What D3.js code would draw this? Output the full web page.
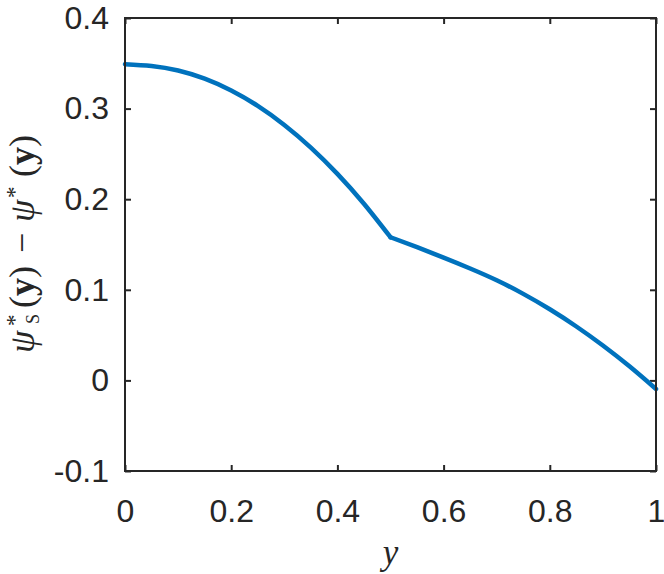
<!DOCTYPE html>
<html>
<head>
<meta charset="utf-8">
<script src="https://cdn.jsdelivr.net/npm/d3@7"></script>
<style>
  body { margin: 0; background: #fff; }
  svg { display: block; }
</style>
</head>
<body>
<svg id="chart" width="664" height="574"></svg>
<script>
// data
var xs = [0, 0.05, 0.1, 0.15, 0.2, 0.25, 0.3, 0.35, 0.4, 0.45, 0.5,
          0.55, 0.6, 0.65, 0.7, 0.75, 0.8, 0.85, 0.9, 0.95, 1];
var diff = [0.349, 0.347, 0.342, 0.333, 0.320, 0.303, 0.282, 0.257, 0.228, 0.195, 0.158,
            0.147, 0.1355, 0.1235, 0.1105, 0.0955, 0.0785, 0.0595, 0.0385, 0.0155, -0.0095];
var xTicks = [0, 0.2, 0.4, 0.6, 0.8, 1];
var yTicks = [-0.1, 0, 0.1, 0.2, 0.3, 0.4];

var mLeft = 125, mRight = 656, mTop = 18, mBottom = 471;
var ink = "#262626";

var svg = d3.select("#chart");

var x = d3.scaleLinear().domain([0, 1]).range([mLeft, mRight]);
var y = d3.scaleLinear().domain([-0.1, 0.4]).range([mBottom, mTop]);

var fmt = function(d){ return String(+d.toFixed(1)); };

// axes (ticks point inward, mirrored on top / right)
var gx = svg.append("g")
    .attr("transform", "translate(0," + mBottom + ")")
    .call(d3.axisBottom(x).tickValues(xTicks).tickSizeInner(-6).tickSizeOuter(0).tickPadding(28).tickFormat(fmt));
var gy = svg.append("g")
    .attr("transform", "translate(" + mLeft + ",0)")
    .call(d3.axisLeft(y).tickValues(yTicks).tickSizeInner(-6).tickSizeOuter(0).tickPadding(16).tickFormat(fmt));
var gx2 = svg.append("g")
    .attr("transform", "translate(0," + mTop + ")")
    .call(d3.axisTop(x).tickValues(xTicks).tickSizeInner(-6).tickSizeOuter(0).tickFormat(""));
var gy2 = svg.append("g")
    .attr("transform", "translate(" + mRight + ",0)")
    .call(d3.axisRight(y).tickValues(yTicks).tickSizeInner(-6).tickSizeOuter(0).tickFormat(""));

[gx, gy, gx2, gy2].forEach(function(g){
  g.select(".domain").remove();
  g.selectAll("line").attr("stroke", ink).attr("stroke-width", 2);
  g.selectAll("text")
    .attr("fill", ink)
    .style("font-family", "'Liberation Sans', Arial, sans-serif")
    .style("font-size", "32px");
});

// the curve, split at the kink so it stays sharp
var kink = xs.indexOf(0.5);
var seg1 = diff.slice(0, kink + 1);
var seg2 = diff.slice(kink);
var line1 = d3.line()
    .x(function(d, i){ return x(xs[i]); })
    .y(function(d){ return y(d); })
    .curve(d3.curveNatural);
var line2 = d3.line()
    .x(function(d, i){ return x(xs[i + kink]); })
    .y(function(d){ return y(d); })
    .curve(d3.curveNatural);

var plot = svg.append("g");
plot.append("path").datum(seg1)
    .attr("d", line1)
    .attr("fill", "none").attr("stroke", "#0072BD").attr("stroke-width", 4.5)
    .attr("stroke-linecap", "round");
plot.append("path").datum(seg2)
    .attr("d", line2)
    .attr("fill", "none").attr("stroke", "#0072BD").attr("stroke-width", 4.5)
    .attr("stroke-linecap", "round");

// box
svg.append("rect")
    .attr("x", mLeft).attr("y", mTop)
    .attr("width", mRight - mLeft).attr("height", mBottom - mTop)
    .attr("fill", "none").attr("stroke", ink).attr("stroke-width", 2);

// x label
svg.append("text")
    .attr("x", (mLeft + mRight) / 2).attr("y", 564)
    .attr("text-anchor", "middle")
    .attr("fill", ink)
    .style("font-family", "'Liberation Serif', 'DejaVu Serif', serif")
    .style("font-style", "italic")
    .style("font-size", "35px")
    .text("y");

// y label: ψ*_S(y) − ψ*(y)
var ylab = svg.append("text")
    .attr("transform", "translate(34,353) rotate(-90)")
    .attr("fill", ink)
    .style("font-family", "'Liberation Serif', 'DejaVu Serif', serif")
    .style("font-size", "36px");
ylab.append("tspan").attr("x", 0).style("font-style", "italic").text("ψ");
ylab.append("tspan").attr("x", 27).attr("dy", -12).style("font-size", "23px").text("*");
ylab.append("tspan").attr("x", 29).attr("dy", 17).style("font-size", "18px").text("S");
ylab.append("tspan").attr("x", 45).attr("dy", -5).text("(");
ylab.append("tspan").style("font-weight", "bold").text("y");
ylab.append("tspan").text(")");
ylab.append("tspan").attr("x", 100).text("−");
ylab.append("tspan").attr("x", 131).style("font-style", "italic").text("ψ");
ylab.append("tspan").attr("x", 155).attr("dy", -12).style("font-size", "23px").text("*");
ylab.append("tspan").attr("x", 176).attr("dy", 12).text("(");
ylab.append("tspan").style("font-weight", "bold").text("y");
ylab.append("tspan").text(")");
</script>
</body>
</html>
